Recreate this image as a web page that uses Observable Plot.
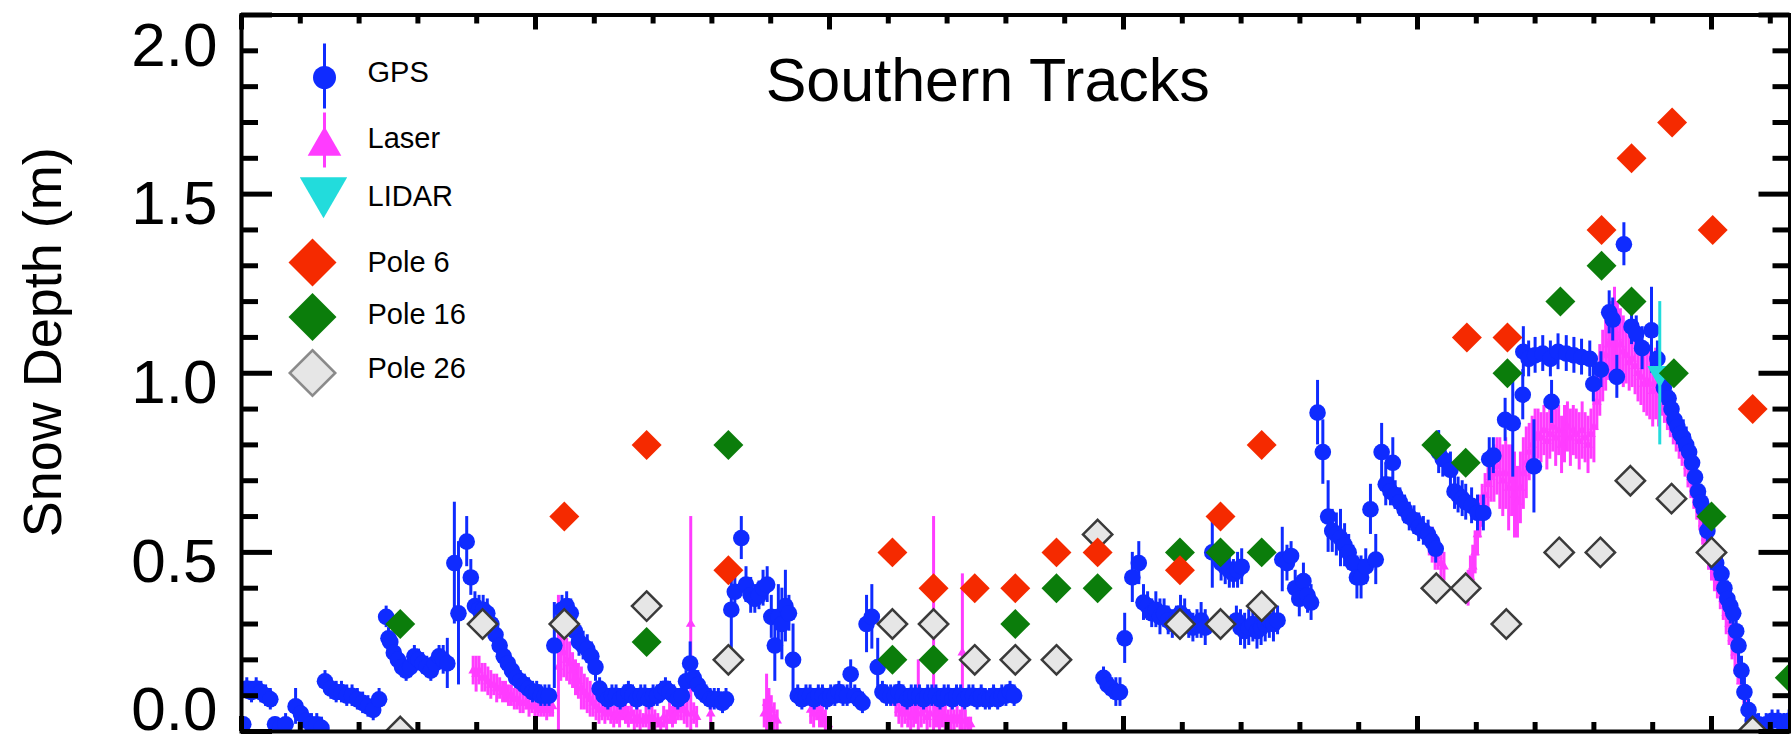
<!DOCTYPE html>
<html><head><meta charset="utf-8">
<script src="https://cdn.jsdelivr.net/npm/d3@7"></script>
<script src="https://cdn.jsdelivr.net/npm/@observablehq/plot@0.6"></script>
<style>html,body{margin:0;padding:0;background:#fff;} #chart{width:1791px;height:736px;}</style>
</head><body><div id="chart"></div>
<script>
// ---------- DATA (x: distance along track, km; y: snow depth, m; e: error, m) ----------
const gps = [
[0.3,0.02,0.02],[0.9,0.12,0.03],[1.7,0.11,0.03],[2.5,0.12,0.03],[3.3,0.11,0.03],[4.1,0.10,0.03],[4.9,0.09,0.03],
[5.7,0.02,0.02],[6.6,0.01,0.02],[7.5,0.02,0.03],[9.2,0.07,0.05],[10.1,0.05,0.03],[11.0,0.03,0.03],[11.9,0.02,0.03],[12.8,0.02,0.03],[13.6,0.01,0.03],
[14.2,0.14,0.03],[15.2,0.12,0.03],[16.1,0.11,0.03],[17.0,0.11,0.03],[17.9,0.10,0.03],[18.8,0.10,0.03],[19.7,0.09,0.03],[20.6,0.08,0.03],[21.5,0.07,0.03],[22.4,0.06,0.03],[23.4,0.09,0.03],
[24.6,0.32,0.03],[25.0,0.26,0.03],[25.3,0.25,0.03],[25.9,0.22,0.03],[26.6,0.20,0.03],[27.3,0.18,0.03],[28.0,0.17,0.03],[28.7,0.18,0.03],[29.4,0.21,0.03],[30.1,0.20,0.03],[30.8,0.19,0.03],[31.5,0.18,0.03],[32.2,0.17,0.03],[32.9,0.19,0.03],[33.6,0.21,0.03],[34.3,0.20,0.04],[35.0,0.19,0.07],
[36.2,0.47,0.17],[36.9,0.33,0.20],[38.3,0.53,0.07],[39.0,0.43,0.05],[39.7,0.35,0.04],[40.4,0.34,0.04],[41.1,0.34,0.04],[41.8,0.33,0.04],[42.5,0.30,0.04],[43.2,0.27,0.04],[43.9,0.24,0.04],[44.6,0.21,0.04],[45.3,0.19,0.03],[46.0,0.17,0.03],[46.7,0.15,0.03],[47.4,0.14,0.03],[48.1,0.13,0.03],[48.8,0.12,0.03],[49.5,0.11,0.03],[50.2,0.11,0.03],[50.9,0.10,0.03],[51.6,0.10,0.03],[52.3,0.10,0.03],
[53.2,0.24,0.12],[54.5,0.34,0.04],[55.3,0.35,0.04],[56.0,0.33,0.04],[56.7,0.28,0.04],[57.4,0.25,0.04],[58.1,0.24,0.04],[58.8,0.23,0.04],[59.5,0.21,0.04],[60.2,0.18,0.04],[60.9,0.12,0.03],
[61.6,0.10,0.03],[62.3,0.09,0.03],[63.0,0.10,0.03],[63.7,0.10,0.03],[64.4,0.09,0.03],[65.1,0.10,0.03],[65.8,0.11,0.03],[66.5,0.10,0.03],[67.2,0.09,0.03],[67.9,0.10,0.03],[68.6,0.10,0.03],[69.3,0.09,0.03],[70.0,0.10,0.03],[70.7,0.10,0.03],[71.4,0.11,0.03],[72.1,0.12,0.03],[72.8,0.11,0.03],[73.5,0.10,0.03],[74.2,0.09,0.03],[74.9,0.10,0.03],
[75.6,0.14,0.03],[76.3,0.19,0.06],[76.9,0.15,0.04],[77.6,0.13,0.04],[78.3,0.11,0.03],[79.0,0.10,0.03],[79.7,0.09,0.03],[80.4,0.09,0.03],[81.1,0.09,0.03],[81.8,0.08,0.03],[82.4,0.09,0.03],
[83.3,0.34,0.12],[83.9,0.39,0.05],[85.0,0.54,0.06],[85.8,0.41,0.05],[86.6,0.38,0.05],[87.3,0.37,0.04],[88.0,0.38,0.04],[88.7,0.40,0.05],[89.4,0.41,0.05],[90.1,0.32,0.06],[90.7,0.24,0.10],[91.3,0.32,0.09],[91.9,0.30,0.10],[92.5,0.35,0.10],[93.1,0.33,0.05],[93.8,0.20,0.10],
[94.6,0.10,0.03],[95.3,0.09,0.03],[96.0,0.10,0.03],[96.7,0.10,0.03],[97.4,0.09,0.03],[98.1,0.10,0.03],[98.8,0.10,0.03],[99.5,0.09,0.03],[100.2,0.10,0.03],[100.9,0.10,0.03],[101.6,0.11,0.03],[102.3,0.10,0.03],[103.0,0.10,0.03],[103.6,0.16,0.04],[104.3,0.10,0.03],[105.0,0.09,0.03],[105.6,0.08,0.03],
[106.3,0.30,0.08],[107.2,0.32,0.09],[108.2,0.18,0.08],
[109.0,0.11,0.03],[109.7,0.10,0.03],[110.4,0.10,0.03],[111.1,0.10,0.03],[111.8,0.11,0.03],[112.5,0.10,0.03],[113.2,0.09,0.03],[113.9,0.10,0.03],[114.6,0.10,0.03],[115.3,0.10,0.03],[116.0,0.09,0.03],[116.7,0.10,0.03],[117.4,0.10,0.03],[118.1,0.10,0.03],[118.8,0.09,0.03],[119.5,0.10,0.03],[120.2,0.10,0.03],[120.9,0.09,0.03],[121.6,0.10,0.03],[122.3,0.10,0.03],[123.0,0.09,0.03],[123.7,0.10,0.03],[124.4,0.10,0.03],[125.1,0.09,0.03],[125.8,0.10,0.03],[126.5,0.09,0.03],[127.2,0.09,0.03],[127.9,0.10,0.03],[128.6,0.09,0.03],[129.3,0.10,0.03],[130.0,0.10,0.03],[130.7,0.11,0.03],[131.4,0.10,0.03],
[146.6,0.15,0.03],[147.3,0.13,0.03],[148.0,0.12,0.03],[148.7,0.11,0.04],[149.4,0.11,0.04],[150.2,0.26,0.07],[151.5,0.43,0.07],[152.6,0.47,0.06],[153.4,0.36,0.05],[154.1,0.35,0.04],[154.8,0.33,0.04],[155.5,0.34,0.05],[156.2,0.32,0.05],[156.9,0.33,0.04],[157.6,0.31,0.04],[158.3,0.30,0.04],[159.0,0.31,0.04],[159.7,0.33,0.05],[160.4,0.32,0.05],[161.1,0.30,0.04],[161.8,0.29,0.04],[162.5,0.30,0.04],[163.2,0.31,0.05],[163.9,0.29,0.05],
[165.1,0.50,0.10],[166.6,0.47,0.05],[167.3,0.46,0.05],[168.0,0.45,0.05],[168.7,0.44,0.04],[169.4,0.45,0.05],[170.1,0.46,0.05],
[169.2,0.31,0.04],[169.9,0.29,0.05],[170.6,0.28,0.05],[171.3,0.29,0.05],[172.0,0.30,0.05],[172.7,0.28,0.05],[173.4,0.29,0.05],[174.1,0.30,0.05],[174.8,0.31,0.05],[175.5,0.30,0.05],[176.2,0.31,0.04],
[177.0,0.48,0.09],[177.8,0.47,0.05],[178.5,0.49,0.04],[179.2,0.40,0.05],[179.9,0.37,0.05],[180.6,0.42,0.05],[181.3,0.38,0.05],[181.9,0.36,0.05],
[183.0,0.89,0.09],[183.9,0.78,0.09],[184.8,0.60,0.10],[185.5,0.56,0.06],[186.2,0.55,0.06],[186.9,0.54,0.08],[187.6,0.52,0.06],[188.3,0.50,0.05],[189.0,0.47,0.05],[189.7,0.43,0.06],[190.4,0.43,0.06],[191.2,0.46,0.05],[192.0,0.62,0.07],[192.9,0.48,0.07],[193.9,0.78,0.08],[194.6,0.69,0.06],[195.8,0.75,0.07],
[195.4,0.67,0.04],[196.2,0.66,0.04],[197.0,0.64,0.04],[197.8,0.62,0.04],[198.6,0.60,0.04],[199.4,0.59,0.04],[200.2,0.57,0.04],[201.0,0.56,0.04],[201.8,0.55,0.04],[202.5,0.53,0.04],[203.1,0.51,0.04],
[203.6,0.78,0.06],[204.3,0.76,0.05],[205.6,0.73,0.05],[206.3,0.67,0.05],[206.9,0.66,0.05],[207.6,0.65,0.05],[208.2,0.64,0.05],[209.2,0.63,0.05],[210.2,0.61,0.05],[211.2,0.61,0.05],[212.2,0.76,0.06],[212.9,0.77,0.05],[214.9,0.87,0.06],[216.2,0.86,0.15],[217.9,0.94,0.07],[219.8,0.74,0.13],[222.8,0.92,0.06],
[218.0,1.06,0.07],[218.9,1.04,0.05],[220.0,1.05,0.05],[221.3,1.055,0.05],[222.6,1.04,0.05],[223.9,1.06,0.05],[225.3,1.055,0.05],[226.6,1.05,0.05],[227.9,1.045,0.05],[229.3,1.04,0.05],[229.9,0.97,0.05],[231.2,1.01,0.05],[232.6,1.17,0.06],[233.2,1.15,0.06],[233.9,0.99,0.06],[235.1,1.36,0.06],[236.4,1.13,0.05],[237.2,1.11,0.05],[238.2,1.07,0.06],[239.8,1.12,0.12],[240.8,1.04,0.05],[241.9,0.96,0.05],
[242.7,0.93,0.05],[243.2,0.90,0.05],[243.7,0.87,0.05],[244.2,0.85,0.05],[244.7,0.83,0.05],[245.2,0.82,0.05],[245.7,0.80,0.05],[246.2,0.78,0.05],[246.7,0.75,0.05],[247.2,0.71,0.05],[247.7,0.67,0.05],[248.2,0.64,0.05],[248.7,0.62,0.05],[249.3,0.56,0.05],[250.0,0.50,0.05],[250.8,0.47,0.05],[251.7,0.44,0.05],[252.2,0.40,0.05],[252.7,0.37,0.05],[253.2,0.35,0.05],[253.7,0.33,0.05],[254.2,0.28,0.05],[254.6,0.24,0.05],[255.1,0.17,0.04],[255.6,0.11,0.04],[256.3,0.06,0.03],[257.0,0.03,0.03],[258.0,0.02,0.03],[259.3,0.02,0.03],[260.3,0.03,0.03],[261.3,0.03,0.03],[262.3,0.02,0.03],[263.2,0.03,0.03]
];

const laser = [
[39.4,0.17,0.04],[39.9,0.16,0.05],[40.4,0.17,0.04],[40.9,0.15,0.04],[41.4,0.15,0.04],[41.9,0.14,0.04],[42.4,0.13,0.04],[42.9,0.13,0.03],[43.4,0.12,0.04],[43.9,0.12,0.03],[44.4,0.11,0.03],[44.9,0.11,0.03],[45.4,0.10,0.03],[45.9,0.10,0.03],[46.4,0.09,0.03],[46.9,0.09,0.03],[47.4,0.08,0.03],[47.9,0.08,0.03],[48.4,0.08,0.02],[48.9,0.07,0.03],[49.4,0.07,0.02],[49.9,0.07,0.03],[50.4,0.06,0.02],[50.9,0.07,0.03],[51.4,0.06,0.02],[51.9,0.06,0.03],[52.4,0.06,0.02],[52.9,0.07,0.03],
[53.9,0.18,0.20],[54.3,0.24,0.10],[54.8,0.22,0.07],[55.3,0.20,0.06],[55.8,0.19,0.06],[56.3,0.17,0.05],[56.8,0.15,0.05],[57.3,0.14,0.05],[57.8,0.12,0.06],[58.3,0.11,0.05],[58.8,0.10,0.05],[59.3,0.09,0.05],[59.8,0.08,0.04],[60.3,0.07,0.04],[60.8,0.06,0.04],
[61.3,0.06,0.03],[61.8,0.05,0.03],[62.3,0.06,0.03],[62.8,0.05,0.03],[63.3,0.04,0.03],[63.8,0.05,0.03],[64.3,0.04,0.03],[64.8,0.06,0.03],[65.3,0.05,0.03],[65.8,0.04,0.03],[66.3,0.05,0.03],[66.8,0.03,0.03],[67.3,0.04,0.03],[67.8,0.03,0.03],[68.3,0.03,0.02],[68.8,0.04,0.03],[69.3,0.03,0.03],[69.8,0.04,0.03],[70.3,0.03,0.03],[70.8,0.03,0.02],[71.3,0.02,0.02],[71.8,0.04,0.03],[72.3,0.03,0.03],[72.8,0.05,0.03],[73.3,0.04,0.03],[73.8,0.05,0.03],[74.3,0.06,0.03],[74.8,0.07,0.04],[75.3,0.06,0.04],[75.8,0.05,0.04],[76.4,0.30,0.30],[76.9,0.05,0.03],[77.4,0.04,0.03],[79.8,0.05,0.05],
[88.9,0.05,0.04],[89.3,0.08,0.08],[89.7,0.07,0.05],[90.1,0.06,0.04],[90.6,0.04,0.04],[91.1,0.03,0.03],
[96.8,0.06,0.04],[97.3,0.05,0.04],[97.8,0.07,0.04],[98.3,0.05,0.04],[98.8,0.04,0.03],[99.3,0.03,0.03],[99.8,0.02,0.02],
[111.3,0.08,0.04],[111.8,0.06,0.04],[112.3,0.05,0.04],[112.8,0.06,0.04],[113.3,0.05,0.04],[113.8,0.04,0.04],[114.3,0.05,0.04],[114.8,0.07,0.05],[115.1,0.10,0.10],[115.6,0.05,0.04],[116.1,0.06,0.04],[116.6,0.04,0.04],[117.1,0.05,0.04],[117.7,0.30,0.30],[118.2,0.05,0.04],[118.7,0.04,0.04],[119.2,0.05,0.04],[119.7,0.04,0.04],[120.2,0.03,0.03],[120.7,0.04,0.04],[121.2,0.03,0.03],[121.7,0.04,0.03],[122.2,0.03,0.03],[122.6,0.22,0.22],[123.1,0.03,0.03],[123.6,0.02,0.02],[124.0,0.02,0.02],
[202.0,0.53,0.04],[202.5,0.52,0.05],[203.0,0.50,0.05],[203.5,0.49,0.04],[204.0,0.47,0.05],[204.5,0.46,0.04],
[208.6,0.40,0.05],[209.0,0.43,0.06],[209.4,0.46,0.06],[209.8,0.50,0.06],[210.2,0.55,0.06],[210.6,0.60,0.06],[211.0,0.63,0.06],[211.5,0.66,0.06],[212.0,0.69,0.07],[212.5,0.71,0.07],[213.0,0.72,0.08],[213.5,0.74,0.08],[214.0,0.72,0.10],[214.5,0.70,0.10],[215.0,0.72,0.10],[215.5,0.68,0.12],[216.0,0.70,0.10],[216.5,0.66,0.12],[217.0,0.64,0.10],[217.5,0.68,0.10],
[218.0,0.72,0.10],[218.5,0.75,0.10],[219.0,0.78,0.08],[219.5,0.80,0.08],[220.0,0.82,0.08],[220.5,0.83,0.07],[221.0,0.82,0.07],[221.5,0.84,0.07],[222.0,0.81,0.08],[222.5,0.83,0.07],[223.0,0.85,0.07],[223.5,0.82,0.08],[224.0,0.84,0.07],[224.5,0.80,0.08],[225.0,0.83,0.08],[225.5,0.85,0.07],[226.0,0.82,0.08],[226.5,0.84,0.07],[227.0,0.83,0.07],[227.5,0.81,0.08],[228.0,0.84,0.08],[228.5,0.82,0.07],[229.0,0.80,0.08],[229.5,0.83,0.07],[230.0,0.85,0.10],
[230.5,0.92,0.08],[231.0,0.98,0.10],[231.5,1.02,0.10],[232.0,1.05,0.10],[232.5,1.08,0.10],[233.0,1.10,0.10],[233.5,1.12,0.12],[234.0,1.10,0.10],[234.5,1.08,0.10],[235.0,1.06,0.10],[235.5,1.05,0.08],[236.0,1.03,0.08],[236.5,1.04,0.08],[237.0,1.02,0.08],[237.5,1.00,0.08],[238.0,0.99,0.08],[238.5,0.97,0.08],[239.0,0.98,0.10],[239.5,0.97,0.10],[240.0,0.95,0.10],[240.5,0.97,0.10],[241.0,0.95,0.10],
[241.5,0.94,0.06],[242.0,0.92,0.06],[242.5,0.90,0.06],[243.0,0.88,0.06],[243.5,0.86,0.06],[244.0,0.84,0.06],[244.5,0.82,0.06],[245.0,0.80,0.06],[245.5,0.77,0.06],[246.0,0.74,0.06],[246.5,0.71,0.06],[247.0,0.68,0.06],[247.5,0.65,0.06],[248.0,0.62,0.06],[248.5,0.58,0.06],[249.0,0.54,0.06],[249.5,0.51,0.06],[250.0,0.48,0.06],[250.5,0.45,0.06],[251.0,0.43,0.06],[251.5,0.40,0.06],[252.0,0.37,0.06],[252.5,0.33,0.06],[253.0,0.30,0.06],[253.5,0.26,0.06],[254.0,0.22,0.06],[254.5,0.18,0.05],[255.0,0.14,0.05],[255.5,0.10,0.05],[256.0,0.07,0.04],[256.5,0.04,0.04],[257.0,0.02,0.02]
];

const lidar = [[241.2, 1.00, 0.20]];

const pole6 = [[54.9,0.60],[68.9,0.80],[82.8,0.45],[110.7,0.50],[117.7,0.40],[124.7,0.40],[131.6,0.40],[138.6,0.50],[145.6,0.50],[159.6,0.45],[166.5,0.60],[173.5,0.80],[208.4,1.10],[215.3,1.10],[231.3,1.40],[236.4,1.60],[243.3,1.70],[250.2,1.40],[257.0,0.90]];
const pole16 = [[27.0,0.30],[68.9,0.25],[82.8,0.80],[110.7,0.20],[117.7,0.20],[131.6,0.30],[138.6,0.40],[145.6,0.40],[159.6,0.50],[166.5,0.50],[173.5,0.50],[203.2,0.80],[208.2,0.75],[215.3,1.00],[224.3,1.20],[231.3,1.30],[236.4,1.20],[243.6,1.00],[250.0,0.60],[263.3,0.15]];
const pole26 = [[27.0,0.00],[41.0,0.30],[54.9,0.30],[68.9,0.35],[82.8,0.20],[110.7,0.30],[117.7,0.30],[124.7,0.20],[131.6,0.20],[138.6,0.20],[145.6,0.55],[159.6,0.30],[166.5,0.30],[173.5,0.35],[203.2,0.40],[208.2,0.40],[215.1,0.30],[224.1,0.50],[231.1,0.50],[236.2,0.70],[243.2,0.65],[250.0,0.50],[257.0,0.00]];

const xMajor = [0, 50, 100, 150, 200, 250];
const xMinor = [10,20,30,40,60,70,80,90,110,120,130,140,160,170,180,190,210,220,230,240,260];
const yMajor = [0, 0.5, 1.0, 1.5, 2.0];
const yMinor = [0.1,0.2,0.3,0.4,0.6,0.7,0.8,0.9,1.1,1.2,1.3,1.4,1.6,1.7,1.8,1.9];
const yTickLabels = ["0.0", "0.5", "1.0", "1.5", "2.0"];
const legendLabels = ["GPS", "Laser", "LIDAR", "Pole 6", "Pole 16", "Pole 26"];
const titleText = "Southern Tracks";
const yLabelText = "Snow Depth (m)";

// ---------- LAYOUT / STYLE ----------
const W = 1791, H = 736;
const mL = 241, mR = 1.5, mT = 14.5, mB = 5;
const fw = W - mL - mR, fh = H - mT - mB;
const font = "'Liberation Sans', Arial, Helvetica, sans-serif";
const cBlue = "#0f2bff", cMag = "#ff3cff", cCyan = "#22dcdc", cRed = "#f52a00", cGreen = "#0b7d0b", cGrayFill = "#e6e6e6", cGrayStroke = "#3a3a3a";
const vbar = half => ({draw(ctx) { ctx.moveTo(0, -half); ctx.lineTo(0, half); }});
const X = d => d[0], Yv = d => d[1], Lo = d => d[1] - d[2], Hi = d => d[1] + d[2];

const tickData = yMajor.map((v, i) => ({v, label: yTickLabels[i]}));

const legendAt = (dx, dy, opts) => Plot.dot([0], {frameAnchor: "top-left", dx, dy, ...opts});
const legendText = (label, dy) => Plot.text([label], {frameAnchor: "top-left", dx: 126, dy, text: d => d, textAnchor: "start", lineAnchor: "middle", fontSize: 29, fill: "black"});

const chart = Plot.plot({
  width: W, height: H,
  marginLeft: mL, marginRight: mR, marginTop: mT, marginBottom: mB,
  x: {domain: [0, 263.35], axis: null},
  y: {domain: [0, 2], axis: null},
  style: {fontFamily: font, background: "white", overflow: "visible"},
  marks: [
    // Laser
    Plot.ruleX(laser, {x: X, y1: Lo, y2: Hi, stroke: cMag, strokeWidth: 3, clip: true}),
    Plot.dot(laser, {x: X, y: Yv, symbol: "triangle", r: 3.6, fill: cMag, clip: true}),
    // GPS
    Plot.ruleX(gps, {x: X, y1: Lo, y2: Hi, stroke: cBlue, strokeWidth: 3, clip: true}),
    Plot.dot(gps, {x: X, y: Yv, r: 8.3, fill: cBlue, clip: true}),
    // LIDAR
    Plot.ruleX(lidar, {x: X, y1: Lo, y2: Hi, stroke: cCyan, strokeWidth: 3, clip: true}),
    Plot.dot(lidar, {x: X, y: Yv, symbol: "triangle", rotate: 180, r: 9.3, fill: cCyan, clip: true}),
    // Poles
    Plot.dot(pole26, {x: X, y: Yv, symbol: "diamond2", r: 13.2, fill: cGrayFill, stroke: cGrayStroke, strokeWidth: 2.5, clip: true}),
    Plot.dot(pole16, {x: X, y: Yv, symbol: "diamond2", r: 13.5, fill: cGreen, clip: true}),
    Plot.dot(pole6, {x: X, y: Yv, symbol: "diamond2", r: 13.5, fill: cRed, clip: true}),
    // Frame and ticks
    Plot.frame({stroke: "black", strokeWidth: 4}),
    Plot.ruleX(xMajor, {insetTop: fh - 15, stroke: "black", strokeWidth: 5}),
    Plot.ruleX(xMajor, {insetBottom: fh - 15, stroke: "black", strokeWidth: 5}),
    Plot.ruleX(xMinor, {insetTop: fh - 9, stroke: "black", strokeWidth: 5}),
    Plot.ruleX(xMinor, {insetBottom: fh - 9, stroke: "black", strokeWidth: 5}),
    Plot.ruleY(yMajor, {insetRight: fw - 31, stroke: "black", strokeWidth: 5}),
    Plot.ruleY(yMajor, {insetLeft: fw - 31, stroke: "black", strokeWidth: 5}),
    Plot.ruleY(yMinor, {insetRight: fw - 17, stroke: "black", strokeWidth: 5}),
    Plot.ruleY(yMinor, {insetLeft: fw - 17, stroke: "black", strokeWidth: 5}),
    // Tick labels
    Plot.text(tickData.filter(d => d.v > 0 && d.v < 2), {y: "v", text: "label", frameAnchor: "left", textAnchor: "end", dx: -24, dy: 10, lineAnchor: "middle", fontSize: 62, fill: "black"}),
    Plot.text(tickData.filter(d => d.v === 2), {y: "v", text: "label", frameAnchor: "left", textAnchor: "end", dx: -24, dy: 31, lineAnchor: "middle", fontSize: 62, fill: "black"}),
    Plot.text(tickData.filter(d => d.v === 0), {y: "v", text: "label", frameAnchor: "left", textAnchor: "end", dx: -24, dy: -21, lineAnchor: "middle", fontSize: 62, fill: "black"}),
    // Axis label and title
    Plot.text([yLabelText], {text: d => d, frameAnchor: "left", dx: -181, dy: -31, rotate: -90, textAnchor: "middle", lineAnchor: "bottom", fontSize: 54, fill: "black"}),
    Plot.text([titleText], {text: d => d, frameAnchor: "top", dx: -28, dy: 85.5, textAnchor: "middle", lineAnchor: "bottom", fontSize: 61, fill: "black"}),
    // Legend
    legendAt(83, 61, {symbol: vbar(32.5), stroke: cBlue, strokeWidth: 3, fill: "none"}),
    legendAt(83, 62.5, {r: 11.5, fill: cBlue}),
    legendAt(83, 125, {symbol: vbar(27.5), stroke: cMag, strokeWidth: 3, fill: "none"}),
    legendAt(83, 131, {symbol: "triangle", r: 12.5, fill: cMag}),
    legendAt(82, 176, {symbol: "triangle", rotate: 180, r: 17.6, fill: cCyan}),
    legendAt(71, 247.5, {symbol: "diamond2", r: 21.6, fill: cRed}),
    legendAt(71, 302, {symbol: "diamond2", r: 21.6, fill: cGreen}),
    legendAt(71, 358, {symbol: "diamond2", r: 20.5, fill: cGrayFill, stroke: "#8a8a8a", strokeWidth: 2.5}),
    legendText(legendLabels[0], 58),
    legendText(legendLabels[1], 123.5),
    legendText(legendLabels[2], 181.5),
    legendText(legendLabels[3], 247.5),
    legendText(legendLabels[4], 299.5),
    legendText(legendLabels[5], 353.5)
  ]
});
document.getElementById("chart").appendChild(chart);
</script>
</body></html>
